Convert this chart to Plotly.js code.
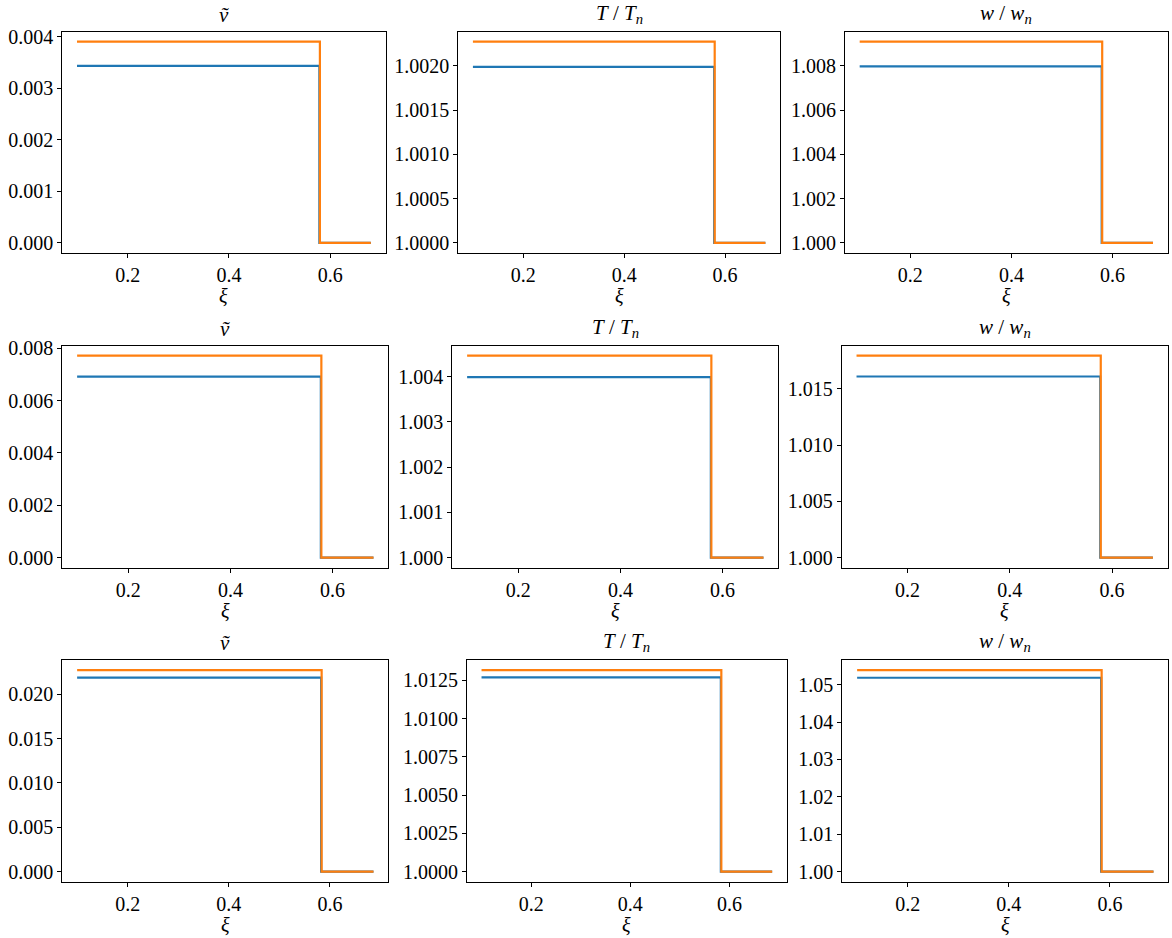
<!DOCTYPE html>
<html><head><meta charset="utf-8">
<script src="https://cdn.plot.ly/plotly-3.0.1.min.js"></script>
<style>html,body{margin:0;padding:0;background:#fff}#chart{width:1172px;height:938px}</style>
</head><body><div id="chart"></div><script>
// ---------------- data ----------------
const xiTicks = [0.2, 0.4, 0.6];
const xiTickText = ['0.2', '0.4', '0.6'];

const xiBlueRow1   = [0.10, 0.5785, 0.5785, 0.680];
const xiOrangeRow1 = [0.10, 0.5795, 0.5795, 0.680];
const xiBlueRow2   = [0.10, 0.577, 0.577, 0.680];
const xiOrangeRow2 = [0.10, 0.578, 0.578, 0.680];
const xiBlueRow3   = [0.10, 0.5825, 0.5825, 0.686];
const xiOrangeRow3 = [0.10, 0.5835, 0.5835, 0.686];

const vBlueRow1   = [0.003437, 0.003437, 0, 0];
const vOrangeRow1 = [0.00391, 0.00391, 0, 0];
const TBlueRow1   = [1.00199, 1.00199, 1, 1];
const TOrangeRow1 = [1.002275, 1.002275, 1, 1];
const wBlueRow1   = [1.00798, 1.00798, 1, 1];
const wOrangeRow1 = [1.00910, 1.00910, 1, 1];

const vBlueRow2   = [0.00692, 0.00692, 0, 0];
const vOrangeRow2 = [0.00772, 0.00772, 0, 0];
const TBlueRow2   = [1.00399, 1.00399, 1, 1];
const TOrangeRow2 = [1.004465, 1.004465, 1, 1];
const wBlueRow2   = [1.0161, 1.0161, 1, 1];
const wOrangeRow2 = [1.01796, 1.01796, 1, 1];

const vBlueRow3   = [0.02187, 0.02187, 0, 0];
const vOrangeRow3 = [0.02273, 0.02273, 0, 0];
const TBlueRow3   = [1.0127, 1.0127, 1, 1];
const TOrangeRow3 = [1.01318, 1.01318, 1, 1];
const wBlueRow3   = [1.05187, 1.05187, 1, 1];
const wOrangeRow3 = [1.05392, 1.05392, 1, 1];

const yTicksV1 = [0, 0.001, 0.002, 0.003, 0.004];
const yTextV1  = ['0.000', '0.001', '0.002', '0.003', '0.004'];
const yTicksT1 = [1.0, 1.0005, 1.001, 1.0015, 1.002];
const yTextT1  = ['1.0000', '1.0005', '1.0010', '1.0015', '1.0020'];
const yTicksW1 = [1.0, 1.002, 1.004, 1.006, 1.008];
const yTextW1  = ['1.000', '1.002', '1.004', '1.006', '1.008'];

const yTicksV2 = [0, 0.002, 0.004, 0.006, 0.008];
const yTextV2  = ['0.000', '0.002', '0.004', '0.006', '0.008'];
const yTicksT2 = [1.0, 1.001, 1.002, 1.003, 1.004];
const yTextT2  = ['1.000', '1.001', '1.002', '1.003', '1.004'];
const yTicksW2 = [1.0, 1.005, 1.01, 1.015];
const yTextW2  = ['1.000', '1.005', '1.010', '1.015'];

const yTicksV3 = [0, 0.005, 0.01, 0.015, 0.02];
const yTextV3  = ['0.000', '0.005', '0.010', '0.015', '0.020'];
const yTicksT3 = [1.0, 1.0025, 1.005, 1.0075, 1.01, 1.0125];
const yTextT3  = ['1.0000', '1.0025', '1.0050', '1.0075', '1.0100', '1.0125'];
const yTicksW3 = [1.0, 1.01, 1.02, 1.03, 1.04, 1.05];
const yTextW3  = ['1.00', '1.01', '1.02', '1.03', '1.04', '1.05'];

const panelTitles = ['<i>ṽ</i>', '<i>T</i> / <i>T</i><sub><i>n</i></sub>', '<i>w</i> / <i>w</i><sub><i>n</i></sub>'];
const xLabel = '<i>ξ</i>';

// ---------------- layout ----------------
const W = 1172, H = 938;
const FONT = 'Liberation Serif, Times New Roman, serif';
const BLUE = '#1f77b4', ORANGE = '#ff7f0e';

// panel boxes in px: [left, right, top, bottom]
const boxes = [
  [62.3, 385.5, 31.5, 253], [458.3, 780, 31.5, 253], [845, 1167.7, 31.5, 253],
  [62.3, 388.3, 345.5, 567.7], [452.3, 778.3, 345.5, 567.7], [841.7, 1167.7, 345.5, 567.7],
  [62.3, 388.3, 660, 881.7], [467, 786.7, 660, 881.7], [842.3, 1168.3, 660, 881.7]
];

const panels = [
  {xb: xiBlueRow1, xo: xiOrangeRow1, yb: vBlueRow1, yo: vOrangeRow1, tv: yTicksV1, tt: yTextV1},
  {xb: xiBlueRow1, xo: xiOrangeRow1, yb: TBlueRow1, yo: TOrangeRow1, tv: yTicksT1, tt: yTextT1},
  {xb: xiBlueRow1, xo: xiOrangeRow1, yb: wBlueRow1, yo: wOrangeRow1, tv: yTicksW1, tt: yTextW1},
  {xb: xiBlueRow2, xo: xiOrangeRow2, yb: vBlueRow2, yo: vOrangeRow2, tv: yTicksV2, tt: yTextV2},
  {xb: xiBlueRow2, xo: xiOrangeRow2, yb: TBlueRow2, yo: TOrangeRow2, tv: yTicksT2, tt: yTextT2},
  {xb: xiBlueRow2, xo: xiOrangeRow2, yb: wBlueRow2, yo: wOrangeRow2, tv: yTicksW2, tt: yTextW2},
  {xb: xiBlueRow3, xo: xiOrangeRow3, yb: vBlueRow3, yo: vOrangeRow3, tv: yTicksV3, tt: yTextV3},
  {xb: xiBlueRow3, xo: xiOrangeRow3, yb: TBlueRow3, yo: TOrangeRow3, tv: yTicksT3, tt: yTextT3},
  {xb: xiBlueRow3, xo: xiOrangeRow3, yb: wBlueRow3, yo: wOrangeRow3, tv: yTicksW3, tt: yTextW3}
];

function padRange(arrs) {
  const all = [].concat(...arrs);
  const lo = Math.min(...all), hi = Math.max(...all);
  const p = (hi - lo) * 0.05;
  return [lo - p, hi + p];
}

const traces = [];
const layout = {
  width: W, height: H,
  margin: {l: 0, r: 0, t: 0, b: 0},
  paper_bgcolor: '#fff', plot_bgcolor: '#fff',
  showlegend: false,
  font: {family: FONT, size: 20, color: '#000'},
  annotations: []
};

panels.forEach((p, i) => {
  const n = i + 1;
  const xa = 'x' + (n === 1 ? '' : n), ya = 'y' + (n === 1 ? '' : n);
  const b = boxes[i];
  traces.push({x: p.xb, y: p.yb, xaxis: xa, yaxis: ya, mode: 'lines', line: {color: BLUE, width: 2.2}, hoverinfo: 'skip'});
  traces.push({x: p.xo, y: p.yo, xaxis: xa, yaxis: ya, mode: 'lines', line: {color: ORANGE, width: 2.2}, hoverinfo: 'skip'});
  const axCommon = {
    showgrid: false, zeroline: false, showline: true, linecolor: '#000', linewidth: 1, mirror: true,
    ticks: 'outside', ticklen: 4, tickwidth: 1, tickcolor: '#000',
    tickfont: {family: FONT, size: 20, color: '#000'}, fixedrange: true
  };
  layout['xaxis' + (n === 1 ? '' : n)] = Object.assign({}, axCommon, {
    domain: [b[0] / W, b[1] / W], anchor: ya,
    range: padRange([p.xb, p.xo]), tickmode: 'array', tickvals: xiTicks, ticktext: xiTickText
  });
  layout['yaxis' + (n === 1 ? '' : n)] = Object.assign({}, axCommon, {
    domain: [1 - b[3] / H, 1 - b[2] / H], anchor: xa,
    range: padRange([p.yb, p.yo]), tickmode: 'array', tickvals: p.tv, ticktext: p.tt
  });
  const cx = (b[0] + b[1]) / 2 / W;
  layout.annotations.push({
    text: panelTitles[i % 3], xref: 'paper', yref: 'paper', x: cx, y: 1 - (b[2] - 3) / H,
    xanchor: 'center', yanchor: 'bottom', showarrow: false, font: {family: FONT, size: 21, color: '#000'}
  });
  layout.annotations.push({
    text: xLabel, xref: 'paper', yref: 'paper', x: cx, y: 1 - (b[3] + 43) / H,
    xanchor: 'center', yanchor: 'middle', showarrow: false, font: {family: FONT, size: 20, color: '#000'}
  });
});

Plotly.newPlot('chart', traces, layout, {displayModeBar: false, staticPlot: true});
</script></body></html>
